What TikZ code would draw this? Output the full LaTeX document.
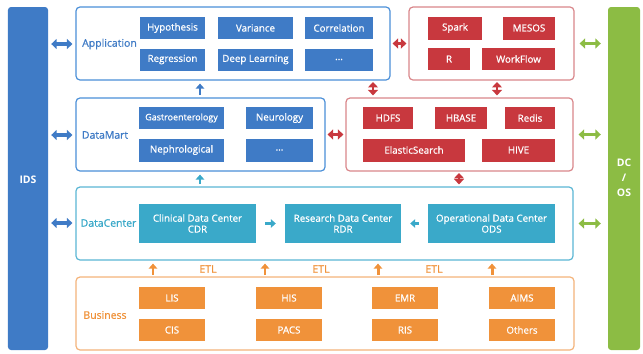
\documentclass[tikz,border=0pt]{standalone}
\usepackage{fontspec}
\setmainfont{Open Sans}
\newfontfamily\semib{Open Sans}[FakeBold=0.8]
\usetikzlibrary{arrows.meta}
\definecolor{bl}{HTML}{3F7BC6}
\definecolor{blb}{HTML}{4A8FD8}
\definecolor{rd}{HTML}{C8383E}
\definecolor{rdb}{HTML}{D9868A}
\definecolor{tl}{HTML}{3AA9C9}
\definecolor{tlb}{HTML}{5AB6D4}
\definecolor{og}{HTML}{F0923A}
\definecolor{ogb}{HTML}{F4B37A}
\definecolor{gr}{HTML}{8CBC44}
\tikzset{
  cont/.style={draw=#1, line width=1.2pt, rounded corners=4pt, fill=white, inner sep=0pt},
  item/.style={fill=#1, text=white, inner sep=0pt, align=center, font=\semib\fontsize{9.8}{11}\selectfont},
  lbl/.style={text=#1, font=\semib\fontsize{10.5}{12}\selectfont, inner sep=0pt},
  dar/.style={draw=#1, line width=3.5pt, {Triangle[width=10pt,length=5.5pt]}-{Triangle[width=10pt,length=5.5pt]}},
  uar/.style={draw=#1, line width=3pt, -{Triangle[width=8.5pt,length=5pt]}},
  bar/.style={fill=#1, rounded corners=3pt, inner sep=0pt, text=white, align=center}
}
\begin{document}
\begin{tikzpicture}[x=1bp,y=-1bp]
\useasboundingbox (0,0) rectangle (643,353);
% side bars
\node[bar=bl, minimum width=40bp, minimum height=343bp] (ids) at (28,178.5) {};
\node[text=white, font=\bfseries\fontsize{10.5}{12}\selectfont] (idst) at (28,180) {IDS};
\node[bar=gr, minimum width=32bp, minimum height=343bp] (dcos) at (624,178.5) {};
\node[text=white, align=center, font=\bfseries\fontsize{10.5}{15}\selectfont] (dcost) at (624,178) {DC\\/\\OS};
% containers
\node[cont=blb, minimum width=314bp, minimum height=73bp] (app) at (233,43.5) {};
\node[cont=blb, minimum width=249bp, minimum height=73bp] (mart) at (200.5,134.5) {};
\node[cont=rdb, minimum width=165bp, minimum height=73bp] (spk) at (491.5,43.5) {};
\node[cont=rdb, minimum width=227bp, minimum height=73bp] (hdb) at (459.5,134.5) {};
\node[cont=tlb, minimum width=497bp, minimum height=73bp] (dc) at (324.5,223.5) {};
\node[cont=ogb, minimum width=498bp, minimum height=73bp] (bus) at (325,313.5) {};
% labels
\node[lbl=bl] (lapp) at (109.5,44) {Application};
\node[lbl=bl] (lmart) at (105,135) {DataMart};
\node[lbl=tl] (ldc) at (108.5,223) {DataCenter};
\node[lbl=og] (lbus) at (105,315) {Business};
% application items
\node[item=bl, minimum width=65bp, minimum height=22bp] (hyp) at (172.5,28) {Hypothesis};
\node[item=bl, minimum width=75bp, minimum height=22bp] (var) at (255.5,28) {Variance};
\node[item=bl, minimum width=68bp, minimum height=22bp] (cor) at (339,28) {Correlation};
\node[item=bl, minimum width=65bp, minimum height=22bp] (reg) at (172.5,59.5) {Regression};
\node[item=bl, minimum width=75bp, minimum height=22bp] (dl) at (255.5,59.5) {Deep Learning};
\node[item=bl, minimum width=68bp, minimum height=22bp] (ad) at (339,59.5) {...};
% datamart items
\node[item=bl, minimum width=85bp, minimum height=22bp, font=\semib\fontsize{9}{10}\selectfont] (gas) at (181.5,118) {Gastroenterology};
\node[item=bl, minimum width=67bp, minimum height=22bp] (neu) at (279.5,118) {Neurology};
\node[item=bl, minimum width=85bp, minimum height=23bp] (nep) at (181.5,150) {Nephrological};
\node[item=bl, minimum width=67bp, minimum height=23bp] (md) at (279.5,150) {...};
% spark items
\node[item=rd, minimum width=54bp, minimum height=23bp] (spark) at (455,28) {Spark};
\node[item=rd, minimum width=52bp, minimum height=23bp] (mesos) at (529,28) {MESOS};
\node[item=rd, minimum width=42bp, minimum height=22bp] (r) at (449,59) {R};
\node[item=rd, minimum width=73bp, minimum height=22bp] (wf) at (518.5,59) {WorkFlow};
% storage items
\node[item=rd, minimum width=50bp, minimum height=22bp] (hdfs) at (388,118) {HDFS};
\node[item=rd, minimum width=52bp, minimum height=22bp] (hbase) at (461,118) {HBASE};
\node[item=rd, minimum width=50bp, minimum height=22bp] (redis) at (530,118) {Redis};
\node[item=rd, minimum width=102bp, minimum height=23bp] (es) at (414,150) {ElasticSearch};
\node[item=rd, minimum width=73bp, minimum height=23bp] (hive) at (518.5,150) {HIVE};
% data center items
\node[item=tl, minimum width=117bp, minimum height=39bp] (cdr) at (197.5,223.5) {Clinical Data Center\\CDR};
\node[item=tl, minimum width=116bp, minimum height=39bp] (rdr) at (343,223.5) {Research Data Center\\RDR};
\node[item=tl, minimum width=127bp, minimum height=39bp] (ods) at (491.5,223.5) {Operational Data Center\\ODS};
% business items
\node[item=og, minimum width=66bp, minimum height=22bp] (lis) at (172,298) {LIS};
\node[item=og, minimum width=66bp, minimum height=22bp] (cis) at (172,330) {CIS};
\node[item=og, minimum width=66bp, minimum height=22bp] (his) at (289,298) {HIS};
\node[item=og, minimum width=66bp, minimum height=22bp] (pacs) at (289,330) {PACS};
\node[item=og, minimum width=66bp, minimum height=22bp] (emr) at (405,298) {EMR};
\node[item=og, minimum width=66bp, minimum height=22bp] (ris) at (405,330) {RIS};
\node[item=og, minimum width=66bp, minimum height=22bp] (aims) at (522,298) {AIMS};
\node[item=og, minimum width=66bp, minimum height=22bp] (oth) at (522,330) {Others};
% ETL labels
\node[lbl=og] (etl1) at (208,269) {ETL};
\node[lbl=og] (etl2) at (321,269) {ETL};
\node[lbl=og] (etl3) at (434,269) {ETL};
% IDS arrows
\draw[dar=bl, shorten <=3bp, shorten >=3bp] (ids.east |- lapp) -- (app.west |- lapp);
\draw[dar=bl, shorten <=3bp, shorten >=3bp] (ids.east |- lmart) -- (mart.west |- lmart);
\draw[dar=bl, shorten <=3bp, shorten >=3bp] (ids.east |- ldc) -- (dc.west |- ldc);
% DC/OS arrows
\draw[dar=gr, shorten <=5bp, shorten >=7bp] (spk.east) -- (dcos.west |- spk.east);
\draw[dar=gr, shorten <=5bp, shorten >=7bp] (hdb.east) -- (dcos.west |- hdb.east);
\draw[dar=gr, shorten <=5bp, shorten >=7bp] (dc.east |- ods) -- (dcos.west |- ods);
% red horizontal arrows
\draw[dar=rd, line width=2.5pt, shorten <=2bp, shorten >=2bp] (app.east) -- (spk.west);
\draw[dar=rd, line width=2.5pt, shorten <=2bp, shorten >=2bp] (mart.east) -- (hdb.west);
% red vertical arrows
\coordinate (v1) at (373,80);
\coordinate (v2) at (497,80);
\coordinate (v3) at (459,171);
\draw[dar=rd, line width=2.5pt, shorten <=2bp, shorten >=2bp] (v1) -- (v1 |- hdb.north);
\draw[dar=rd, line width=2.5pt, shorten <=2bp, shorten >=2bp] (v2) -- (v2 |- hdb.north);
\draw[dar=rd, line width=2.5pt, shorten <=2bp, shorten >=2bp] (v3) -- (v3 |- dc.north);
% up arrows
\coordinate (u1) at (200,98);
\draw[uar=bl, shorten <=3bp, shorten >=3bp] (u1) -- (u1 |- app.south);
\coordinate (u2) at (200,187);
\draw[uar=tl, shorten <=3bp, shorten >=3bp] (u2) -- (u2 |- mart.south);
% data center arrows
\draw[uar=tl, shorten <=9bp, shorten >=9bp] (cdr.east) -- (rdr.west);
\draw[uar=tl, shorten <=9bp, shorten >=9bp] (ods.west) -- (rdr.east);
% ETL arrows
\foreach \n/\x in {e1/153,e2/265,e3/378,e4/492}{
  \coordinate (\n) at (\x,277);
  \draw[uar=og, shorten <=2bp, shorten >=3bp] (\n) -- (\n |- dc.south);
}
\end{tikzpicture}
\end{document}
